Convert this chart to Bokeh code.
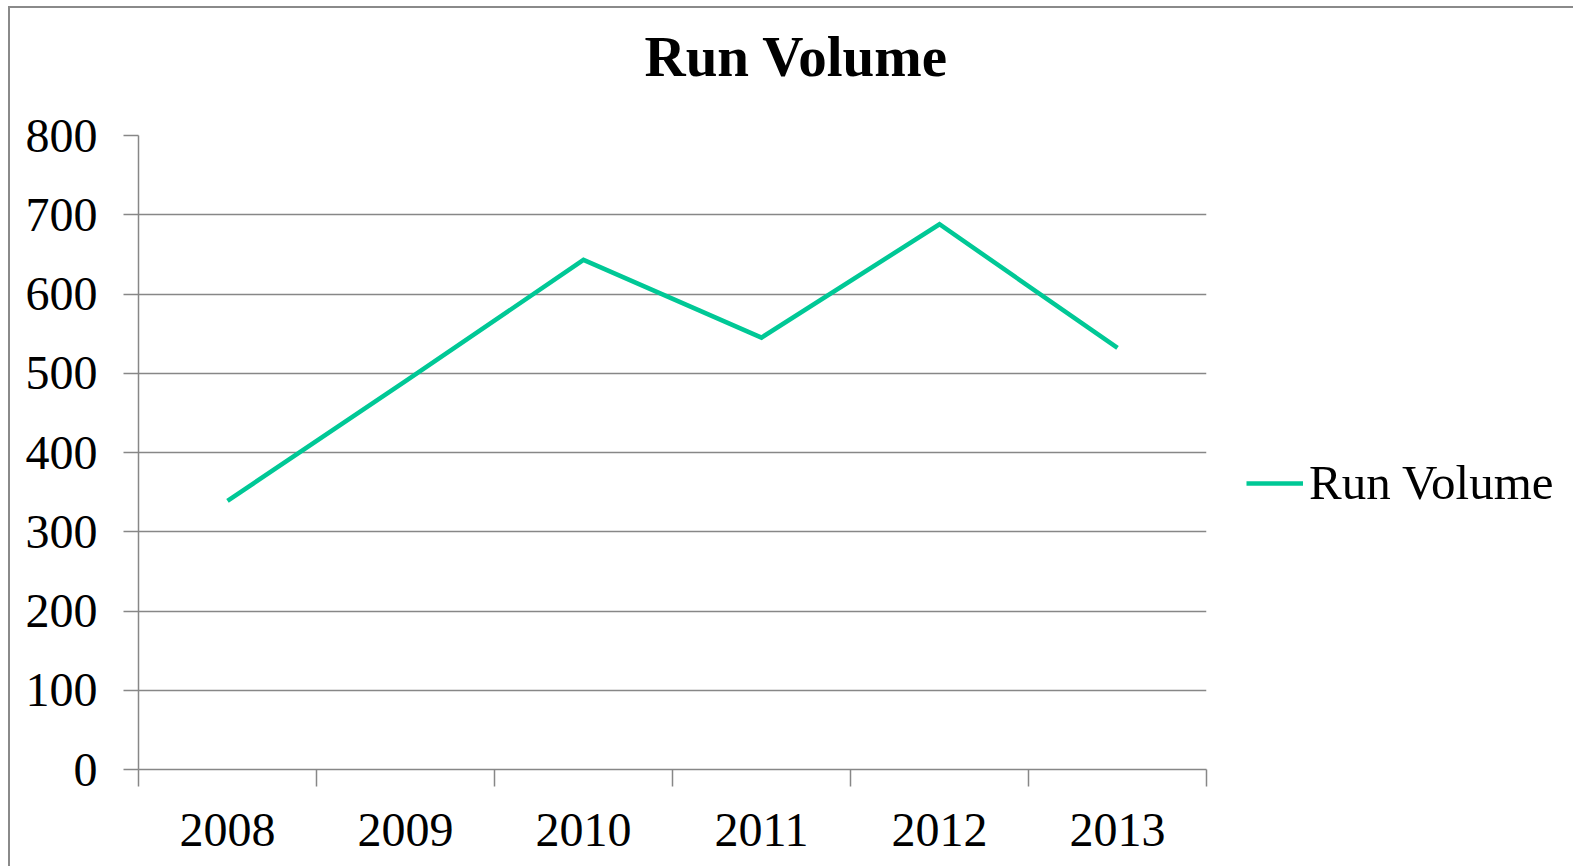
from bokeh.plotting import figure
from bokeh.models import FixedTicker, Legend, LegendItem, ColumnDataSource, Title
from bokeh.embed import file_html
from bokeh.resources import INLINE

# ---- data ----
years = ["2008", "2009", "2010", "2011", "2012", "2013"]
run_volume = [339, 490, 643, 545, 688, 532]
y_ticks = [0, 100, 200, 300, 400, 500, 600, 700, 800]
series_name = "Run Volume"
chart_title = "Run Volume"

FONT = "Liberation Serif"
GRAY = "#878787"
LINE_COLOR = "#00c896"

xs = [i + 0.5 for i in range(len(years))]
src = ColumnDataSource(dict(x=xs, y=run_volume))

p = figure(
    frame_width=1068, frame_height=634,
    x_range=(0, len(years)), y_range=(0, 800),
    output_backend="svg", toolbar_location=None,
    min_border_left=138, min_border_right=359,
    min_border_top=135, min_border_bottom=97,
    background_fill_color="white", border_fill_color=None,
)
p.styles = {
    "background": "linear-gradient(#8a8a8a,#8a8a8a) 8px 6px / 2px 100% no-repeat, "
                  "linear-gradient(#8a8a8a,#8a8a8a) 8px 6px / 100% 2px no-repeat, white",
}
p.outline_line_color = None

# title (outermost) plus a thin spacer panel between it and the frame
p.title = Title(text=chart_title, align="left", offset=506,
                text_font=FONT, text_font_size="57px", text_font_style="bold",
                text_color="black", standoff=0)
p.add_layout(Title(text=" ", text_font_size="2px", standoff=44), "above")

# x axis: labels at centers, ticks at category boundaries
xa = p.xaxis[0]
xa.ticker = FixedTicker(ticks=xs, minor_ticks=list(range(len(years) + 1)))
xa.major_label_overrides = {x: y for x, y in zip(xs, years)}
xa.major_tick_line_color = None
xa.minor_tick_line_color = GRAY
xa.minor_tick_line_width = 1.5
xa.minor_tick_out = 17
xa.minor_tick_in = 0
xa.axis_line_color = GRAY
xa.axis_line_width = 1.5
xa.major_label_text_font = FONT
xa.major_label_text_font_size = "48px"
xa.major_label_text_color = "black"
xa.major_label_standoff = 27

# y axis
ya = p.yaxis[0]
ya.ticker = FixedTicker(ticks=y_ticks)
ya.major_tick_line_color = GRAY
ya.major_tick_line_width = 1.5
ya.major_tick_out = 15
ya.major_tick_in = 0
ya.minor_tick_line_color = None
ya.axis_line_color = GRAY
ya.axis_line_width = 1.5
ya.major_label_text_font = FONT
ya.major_label_text_font_size = "48px"
ya.major_label_text_color = "black"
ya.major_label_standoff = 26

# grid
p.xgrid.grid_line_color = None
p.ygrid.ticker = FixedTicker(ticks=y_ticks)
p.ygrid.grid_line_color = GRAY
p.ygrid.grid_line_width = 1.5

r = p.line("x", "y", source=src, line_color=LINE_COLOR, line_width=4.5, line_join="miter")

legend = Legend(
    items=[LegendItem(label=series_name, renderers=[r])],
    location=(40, 258),
    border_line_color=None, background_fill_alpha=0,
    padding=0, margin=0, spacing=0,
    glyph_width=57, glyph_height=40, label_standoff=6,
    label_text_font=FONT, label_text_font_size="49px", label_text_color="black",
)
p.add_layout(legend, "right")

open("out.html", "w").write(file_html(p, INLINE))
